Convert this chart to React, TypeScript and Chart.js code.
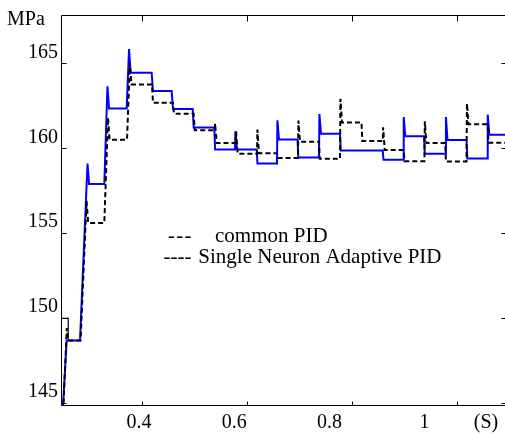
import React, { useEffect, useRef } from 'react';
import { Chart, registerables } from 'chart.js';

Chart.register(...registerables);

const FONT = '"Liberation Serif", "Times New Roman", serif';

// ---- axes ----
const xMin = 0.24629;
const xMax = 1.0939;
const yMin = 144.865;
const yMax = 167.856;
const xTicks = [0.4, 0.6, 0.8, 1.0];
const yTicks = [145, 150, 155, 160, 165];
const xLabelValues = [0.4, 0.6, 0.8, 1.0, 1.1292];
const xLabelTexts = ['0.4', '0.6', '0.8', '1', '(S)'];
const xLabelMin = 0.23582;
const xLabelMax = 1.17128;

// ---- blue solid series (transition time, ramp, spike peak, settled level) ----
const blueStart = 144.5;
const blueTimes = [0.2495, 0.2825, 0.3288, 0.3714, 0.419, 0.4571, 0.4971, 0.5383, 0.5777, 0.619, 0.6577, 0.6968, 0.7377, 0.7777, 0.8591, 0.8983, 0.9377, 0.9787, 1.0187, 1.0583];
const blueRamps = [0.0076, 0.0143, 0.006, 0.0045, 0.0025, 0.0025, 0.002, 0.0015, 0.0008, 0.0015, 0.0008, 0.0015, 0.0008, 0.0015, 0.0015, 0.0008, 0.0015, 0.0008, 0.0015, 0.0008];
const blueSpikes = [null, 159.1, 163.65, 165.85, null, null, null, null, 161.0, null, 161.65, null, 162.02, null, null, 161.84, null, 161.84, null, 161.98];
const blueLevels = [148.66, 157.9, 162.35, 164.45, 163.37, 162.31, 161.23, 159.92, 159.92, 159.1, 160.52, 159.46, 160.86, 159.87, 159.32, 160.71, 159.68, 160.48, 159.4, 160.8];

// ---- black dashed series ----
const blackStart = 144.5;
const blackTimes = [0.2505, 0.2835, 0.3288, 0.372, 0.4195, 0.4596, 0.499, 0.539, 0.579, 0.6196, 0.6577, 0.6977, 0.7377, 0.7777, 0.8187, 0.8591, 0.899, 0.9385, 0.978, 1.0187, 1.059];
const blackRamps = [0.0068, 0.0115, 0.007, 0.0055, 0.002, 0.002, 0.002, 0.0008, 0.0008, 0.0008, 0.0015, 0.0008, 0.0015, 0.0008, 0.0015, 0.0008, 0.0015, 0.0008, 0.0015, 0.0008, 0.0015];
const blackSpikes = [149.4, 156.9, 161.8, 165.0, null, null, null, 161.47, 161.0, 161.1, null, 161.63, null, 162.92, null, 161.24, null, 161.59, null, 162.64, null];
const blackLevels = [148.66, 155.6, 160.5, 163.76, 162.68, 162.03, 161.06, 160.31, 159.68, 159.7, 159.43, 160.39, 159.38, 161.52, 160.43, 159.9, 159.24, 160.31, 159.22, 161.42, 160.32];

// ---- thin solid start segment ----
const startTimes = [0.2466, 0.2466, 0.26, 0.26, 0.262];
const startValues = [144.5, 149.97, 149.97, 148.66, 148.66];

const SETTLE = 0.003;

function buildSteps(start: number, times: number[], ramps: number[], spikes: (number | null)[], levels: number[]) {
  const pts: { x: number; y: number }[] = [];
  let prev = start;
  times.forEach((t, i) => {
    pts.push({ x: t, y: prev });
    const s = spikes[i];
    if (s != null) {
      pts.push({ x: t + ramps[i], y: s });
      pts.push({ x: t + ramps[i] + SETTLE, y: levels[i] });
    } else {
      pts.push({ x: t + ramps[i], y: levels[i] });
    }
    prev = levels[i];
  });
  pts.push({ x: xMax + 0.02, y: prev });
  return pts;
}

const decorPlugin = {
  id: 'decor',
  afterDraw(chart: any) {
    const { ctx, chartArea: a, scales } = chart;
    const xs = scales.x;
    const ys = scales.y;
    ctx.save();
    ctx.strokeStyle = '#000';
    ctx.lineWidth = 1;
    const L = Math.round(a.left) + 0.5;
    const R = Math.round(a.right) + 0.5;
    const T = Math.round(a.top) + 0.5;
    const B = Math.round(a.bottom) + 0.5;
    ctx.beginPath();
    ctx.moveTo(L, B); ctx.lineTo(L, T); ctx.lineTo(R, T); ctx.lineTo(R, B); ctx.lineTo(L, B);
    xTicks.forEach((v) => {
      const px = Math.round(xs.getPixelForValue(v)) + 0.5;
      ctx.moveTo(px, T); ctx.lineTo(px, T + 6);
      ctx.moveTo(px, B); ctx.lineTo(px, B - 4);
    });
    yTicks.forEach((v) => {
      const py = Math.round(ys.getPixelForValue(v)) + 0.5;
      ctx.moveTo(L, py); ctx.lineTo(L + 5, py);
      ctx.moveTo(R, py); ctx.lineTo(R - 5, py);
    });
    ctx.stroke();

    ctx.fillStyle = '#000';
    ctx.textBaseline = 'alphabetic';
    ctx.textAlign = 'left';
    ctx.font = `20px ${FONT}`;
    ctx.fillText('MPa', 7, 25);

    ctx.font = `21px ${FONT}`;
    try { (ctx as any).letterSpacing = '-2px'; } catch (e) {}
    ctx.fillText('- - -', 168, 241.7);
    try { (ctx as any).letterSpacing = '0px'; } catch (e) {}
    ctx.fillText('common PID', 215, 241.7);
    ctx.fillText('----', 163.5, 263.3);
    ctx.fillText('Single Neuron Adaptive PID', 198.3, 263.3);
    ctx.restore();
  },
};

export default function App() {
  const ref = useRef<HTMLCanvasElement>(null);
  useEffect(() => {
    const tickFont = { family: FONT, size: 20 };
    const chart = new Chart(ref.current as HTMLCanvasElement, {
      type: 'line',
      data: {
        datasets: [
          {
            label: 'common PID',
            data: buildSteps(blackStart, blackTimes, blackRamps, blackSpikes, blackLevels),
            borderColor: '#000000',
            borderWidth: 2,
            borderDash: [5, 3],
            pointRadius: 0,
            tension: 0,
            fill: false,
          },
          {
            label: 'Single Neuron Adaptive PID',
            data: buildSteps(blueStart, blueTimes, blueRamps, blueSpikes, blueLevels),
            borderColor: '#0000ff',
            borderWidth: 2,
            pointRadius: 0,
            tension: 0,
            fill: false,
          },
          {
            label: 'start',
            data: startTimes.map((t, i) => ({ x: t, y: startValues[i] })),
            borderColor: '#000000',
            borderWidth: 1.2,
            pointRadius: 0,
            tension: 0,
            fill: false,
          },
        ],
      },
      options: {
        responsive: false,
        animation: false,
        devicePixelRatio: 1,
        layout: { padding: { left: 0, top: 13, right: 4, bottom: 0 } },
        plugins: { legend: { display: false }, tooltip: { enabled: false }, title: { display: false } },
        scales: {
          x: {
            type: 'linear',
            position: 'bottom',
            min: xMin,
            max: xMax,
            ticks: { display: false },
            grid: { display: false, drawTicks: false },
            border: { display: false },
            afterFit: (s: any) => { s.height = 0; },
          },
          x2: {
            type: 'linear',
            position: 'bottom',
            min: xLabelMin,
            max: xLabelMax,
            afterBuildTicks: (s: any) => { s.ticks = xLabelValues.map((v) => ({ value: v })); },
            ticks: {
              autoSkip: false,
              maxRotation: 0,
              padding: 6,
              color: '#000',
              font: tickFont,
              callback: (_v: any, i: number) => xLabelTexts[i],
            },
            grid: { display: false, drawTicks: false },
            border: { display: false },
            afterFit: (s: any) => { s.height = 32; },
          },
          y: {
            type: 'linear',
            position: 'left',
            min: yMin,
            max: yMax,
            afterBuildTicks: (s: any) => { s.ticks = yTicks.map((v) => ({ value: v })); },
            ticks: {
              autoSkip: false,
              padding: 3,
              labelOffset: -11,
              color: '#000',
              font: tickFont,
              callback: (v: any) => String(v),
            },
            grid: { display: false, drawTicks: false },
            border: { display: false },
            afterFit: (s: any) => { s.width = 61; },
          },
        },
      },
      plugins: [decorPlugin],
    } as any);
    return () => chart.destroy();
  }, []);
  return (
    <div style={{ position: 'fixed', left: 0, top: 0, width: 505, height: 437, overflow: 'hidden', background: '#fff' }}>
      <canvas ref={ref} width={510} height={437} style={{ display: 'block', width: 510, height: 437 }} />
    </div>
  );
}
